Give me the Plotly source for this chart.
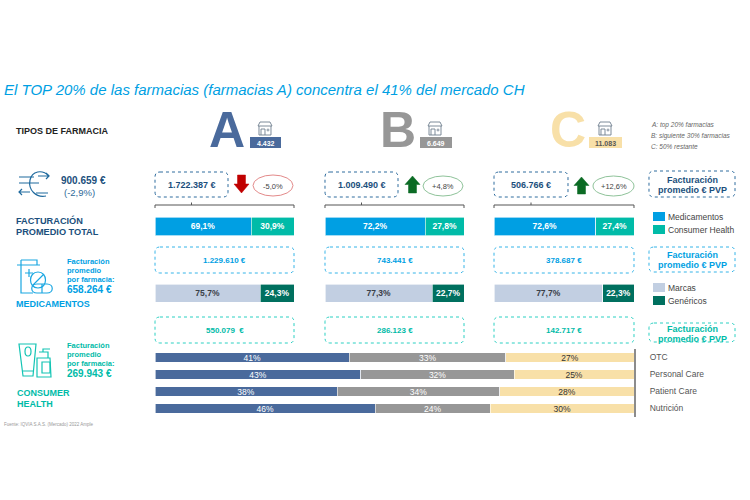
import re
import plotly.graph_objects as go

# ---------- data ----------
groups = ["A", "B", "C"]
group_counts = ["4.432", "6.649", "11.083"]
total_sales = ["1.722.387 €", "1.009.490 €", "506.766 €"]
changes = ["-5,0%", "+4,8%", "+12,6%"]
med_sales = ["1.229.610 €", "743.441 €", "378.687 €"]
ch_sales = ["550.079  €", "286.123 €", "142.717 €"]
share_medicamentos = [69.1, 72.2, 72.6]
share_consumer = [30.9, 27.8, 27.4]
share_marcas = [75.7, 77.3, 77.7]
share_genericos = [24.3, 22.7, 22.3]
ch_categories = ["OTC", "Personal Care", "Patient Care", "Nutrición"]
ch_a = [41, 43, 38, 46]
ch_b = [33, 32, 34, 24]
ch_c = [27, 25, 28, 30]

# ---------- palette ----------
BLUE, TEAL = "#009FE3", "#00BBA8"
LIGHT, DGREEN = "#C2CFE2", "#00705F"
NAVY, GREY, YEL = "#4A6A9C", "#979797", "#F8E0A8"
DARKBLUE = "#1B4F7C"
BOXBLUE = "#2F6C9E"
FONT = "Liberation Sans"

W, H = 750, 500
def fx(x): return x / W
def fy(y): return 1 - y / H

def path(s):
    toks = s.split()
    out, n = [], 0
    for t in toks:
        if re.fullmatch(r"[A-Za-z]", t):
            out.append(t); n = 0
        else:
            v = float(t)
            out.append(f"{fx(v) if n % 2 == 0 else fy(v):.5f}")
            n += 1
    res, j = "", 0
    while j < len(out):
        if out[j].isalpha():
            res += " " + out[j] + " "; j += 1
        else:
            res += out[j] + "," + out[j + 1] + " "; j += 2
    return res.strip()

shapes, annots = [], []
def add_path(s, color, width=1.2, fill=None, dash="solid"):
    d = dict(type="path", xref="paper", yref="paper", path=path(s),
             line=dict(color=color, width=width, dash=dash))
    if fill:
        d["fillcolor"] = fill
    shapes.append(d)

def rbox(x0, y0, x1, y1, color, r=5):
    s = (f"M {x0+r} {y0} L {x1-r} {y0} Q {x1} {y0} {x1} {y0+r} L {x1} {y1-r} "
         f"Q {x1} {y1} {x1-r} {y1} L {x0+r} {y1} Q {x0} {y1} {x0} {y1-r} "
         f"L {x0} {y0+r} Q {x0} {y0} {x0+r} {y0} Z")
    add_path(s, color, 1, dash="dot")

def rect(x0, y0, x1, y1, fill):
    shapes.append(dict(type="rect", xref="paper", yref="paper", x0=fx(x0), x1=fx(x1),
                       y0=fy(y0), y1=fy(y1), fillcolor=fill, line=dict(width=0)))

def ell(x0, y0, x1, y1, color):
    shapes.append(dict(type="circle", xref="paper", yref="paper", x0=fx(x0), x1=fx(x1),
                       y0=fy(y0), y1=fy(y1), line=dict(color=color, width=1)))

def T(x, y, text, size, color, bold=False, anchor="left", italic=False, family=FONT):
    annots.append(dict(x=fx(x), y=fy(y), xref="paper", yref="paper", showarrow=False,
                       text=f"<b>{text}</b>" if bold else text,
                       xanchor=anchor, yanchor="middle", align=anchor,
                       font=dict(size=size, color=color, family=family,
                                 style="italic" if italic else "normal"),
                       borderpad=0, borderwidth=0))

def shop(cx, y0):
    c = "#6F7F8F"
    add_path(f"M {cx-7} {y0+4} L {cx-5} {y0} L {cx+5} {y0} L {cx+7} {y0+4} Z", c, 0.9)
    add_path(f"M {cx-6} {y0+4} L {cx-6} {y0+13} L {cx+6} {y0+13} L {cx+6} {y0+4}", c, 0.9)
    add_path(f"M {cx-4} {y0+13} L {cx-4} {y0+7} L {cx} {y0+7} L {cx} {y0+13}", c, 0.9)
    add_path(f"M {cx+1.5} {y0+8} L {cx+4.5} {y0+8} M {cx+3} {y0+6.5} L {cx+3} {y0+9.5}", c, 0.8)

def arrow(x0, y0, x1, y1, color):
    m = (x0 + x1) / 2
    ym = y0 + (y1 - y0) * 0.5
    if color == "#C00000":  # pointing down
        s = (f"M {m-4} {y0} L {m+4} {y0} L {m+4} {ym} L {x1} {ym} L {m} {y1} "
             f"L {x0} {ym} L {m-4} {ym} Z")
    else:
        s = (f"M {m} {y0} L {x1} {ym} L {m+4} {ym} L {m+4} {y1} L {m-4} {y1} "
             f"L {m-4} {ym} L {x0} {ym} Z")
    add_path(s, color, 0.5, fill=color)

# ---------- layout geometry ----------
col_x = [(155, 294), (325, 464), (494, 634)]
big_x = [227, 398, 568]
big_col = [NAVY, GREY, YEL]
badge = [(250, 281), (420, 452), (589, 622)]
badge_txt = ["white", "white", "#555555"]
shop_x = [265, 435, 605]
box_tot = [(155, 228), (325, 398), (494, 568)]
arrows = [(234, 175, 249, 193, "#C00000"), (405, 176, 420, 193, "#0B6B24"), (574, 177, 589, 194, "#0B6B24")]
ells = [(253, 175, 293, 196, "#E38A8A"), (423, 176, 463, 196, "#8FC39A"), (593, 176, 634, 196, "#8FC39A")]

T(16, 131, "TIPOS DE FARMACIA", 9, "#222222", True)
for i in range(3):
    T(big_x[i], 130, f"<b>{groups[i]}</b>", 50, big_col[i], anchor="center")
    rect(badge[i][0], 137, badge[i][1], 148, big_col[i])
    T(sum(badge[i]) / 2, 143, group_counts[i], 7, badge_txt[i], True, "center")
    shop(shop_x[i], 122)
    x0, x1 = box_tot[i]
    rbox(x0, 172, x1, 197, BOXBLUE)
    T((x0 + x1) / 2, 185, total_sales[i], 9, DARKBLUE, True, "center")
    a = arrows[i]; arrow(a[0], a[1], a[2], a[3], a[4])
    e = ells[i]; ell(e[0], e[1], e[2], e[3], e[4])
    T((e[0] + e[2]) / 2, 186.5, changes[i], 7.5, "#444444", False, "center")
    c0, c1 = col_x[i]
    mid = (x0 + x1) / 2
    add_path(f"M {c0} 208 L {c0} 205 L {c1} 205 L {c1} 208 M {mid} 205 L {mid} 202.5", "#555555", 1)
    rbox(c0, 247, c1, 273, "#35B4E8")
    T((c0 + c1) / 2, 260, med_sales[i], 8, BLUE, True, "center")
    rbox(c0, 317, c1, 343, "#2BD0C2")
    T((c0 + c1) / 2, 330, ch_sales[i], 8, TEAL, True, "center")

# left labels
T(61, 180, "900.659 €", 10, DARKBLUE, True)
T(64, 192, "(-2,9%)", 9.5, "#2E6A99")
T(16, 221, "FACTURACIÓN", 9.2, DARKBLUE, True)
T(16, 232, "PROMEDIO TOTAL", 9.2, DARKBLUE, True)
for y, t in [(261, "Facturación"), (270, "promedio"), (279.5, "por farmacia:")]:
    T(67, y, t, 7.5, BLUE, True)
T(67, 289, "658.264 €", 10, BLUE, True)
T(16, 304, "MEDICAMENTOS", 9, BLUE, True)
for y, t in [(345, "Facturación"), (354, "promedio"), (363, "por farmacia:")]:
    T(67, y, t, 7.5, TEAL, True)
T(67, 373, "269.943 €", 10, TEAL, True)
T(17, 393, "CONSUMER", 9, TEAL, True)
T(17, 404, "HEALTH", 9, TEAL, True)
T(4, 424.5, "Fuente: IQVIA S.A.S. (Mercado) 2022 Ample", 4.5, "#999999")

# right column
T(651, 125, "A: top 20% farmacias", 6.5, "#666666", italic=True)
T(651, 136, "B: siguiente 30% farmacias", 6.5, "#666666", italic=True)
T(651, 146, "C: 50% restante", 6.5, "#666666", italic=True)
rbox(649, 171, 735, 197, BOXBLUE)
T(692, 179.5, "Facturación", 9, DARKBLUE, True, "center")
T(692, 190, "promedio € PVP", 9, DARKBLUE, True, "center")
rbox(649, 247, 735, 272, "#35B4E8")
T(692, 254.5, "Facturación", 9, BLUE, True, "center")
T(692, 264.5, "promedio € PVP", 9, BLUE, True, "center")
rbox(649, 323, 735, 342, "#2BD0C2")
T(692, 328.5, "Facturación", 9, TEAL, True, "center")
T(692, 338.5, "promedio € PVP", 9, TEAL, True, "center")
for y0, col, lab in [(212, BLUE, "Medicamentos"), (225, TEAL, "Consumer Health"),
                     (283, LIGHT, "Marcas"), (296, DGREEN, "Genéricos")]:
    rect(653, y0, 665, y0 + 9, col)
    T(668, y0 + 5, lab, 8.5, "#444444")

# ---------- icons ----------
c = "#1F6A9E"
add_path("M 19 177 L 34 177 M 19 183 L 39 183 M 36 193 L 48 193", c, 1.2)
add_path("M 49 176 C 42 169 32 171 30 180 C 28 190 36 198 46 196", c, 1.2)
add_path("M 38 176 L 49 176 M 46 173 L 49 176 L 46 179", c, 1.2)
add_path("M 19 192 L 30 192 M 22 189 L 19 192 L 22 195", c, 1.2)
c = "#1AA7E2"
add_path("M 21 260 L 37 260 L 37 265 M 17 265 L 40 265 M 21 265 L 21 293 L 33 293 M 21 260 L 21 265", c, 1.2)
add_path("M 25 273 L 33 273 M 29 269 L 29 277", c, 1.2)
add_path("M 38 272 C 48 272 48 288 38 288 C 28 288 28 272 38 272 Z M 33 285 L 43 275", c, 1.2)
add_path("M 37 284 L 47 284 C 54 284 54 293 47 293 L 37 293 C 30 293 30 284 37 284 Z M 42 284 L 42 293", c, 1.2)
c = "#12C4B4"
add_path("M 19 344 L 36 344 L 33 376 L 23 376 Z M 22 371 L 34 371", c, 1.2)
add_path("M 28 347 C 32 347 32 356 28 356 C 24 356 24 347 28 347 Z", c, 1.2)
add_path("M 37 358 L 50 358 L 51 377 L 37 377 Z M 39 352 L 48 352 L 48 358 M 43 352 L 43 349 L 50 349", c, 1.2)
add_path("M 42 362 L 50 362 L 50 373 L 42 373 Z", c, 1.2)

# ---------- traces on their own axes ----------
fig = go.Figure()
layout_axes = {}
axis_no = 0

def make_axes(x0, x1, y0, y1, **yopts):
    global axis_no
    axis_no += 1
    sfx = "" if axis_no == 1 else str(axis_no)
    layout_axes["xaxis" + sfx] = dict(domain=[fx(x0), fx(x1)], range=[0, 100], visible=False,
                                      anchor="y" + sfx, fixedrange=True)
    y = dict(domain=[fy(y1), fy(y0)], anchor="x" + sfx, fixedrange=True, showgrid=False,
             zeroline=False, type="category", autorange="reversed", visible=False)
    y.update(yopts)
    layout_axes["yaxis" + sfx] = y
    return "x" + sfx, "y" + sfx

def seg(xa, ya, cats, vals, color, labels, txtcol, bold, size, width, name):
    fig.add_trace(go.Bar(
        y=cats, x=vals, name=name, orientation="h", xaxis=xa, yaxis=ya, width=width,
        marker=dict(color=color, line=dict(width=0.6, color="white")),
        text=[f"<b>{l}</b>" if bold else l for l in labels],
        textposition="inside", insidetextanchor="middle", textangle=0,
        constraintext="none", cliponaxis=False,
        textfont=dict(color=txtcol, size=size, family=FONT), showlegend=False))

def pct(v):
    return f"{v:.1f}%".replace(".", ",")

for i in range(3):
    c0, c1 = col_x[i]
    xa, ya = make_axes(c0, c1, 217, 235.5)
    seg(xa, ya, ["Total"], [share_medicamentos[i]], BLUE, [pct(share_medicamentos[i])], "white", True, 8.5, 1, "Medicamentos")
    seg(xa, ya, ["Total"], [share_consumer[i]], TEAL, [pct(share_consumer[i])], "white", True, 8.5, 1, "Consumer Health")
    xa, ya = make_axes(c0, c1, 284, 302)
    seg(xa, ya, ["Med"], [share_marcas[i]], LIGHT, [pct(share_marcas[i])], "#3A4048", True, 8.5, 1, "Marcas")
    seg(xa, ya, ["Med"], [share_genericos[i]], DGREEN, [pct(share_genericos[i])], "white", True, 8.5, 1, "Genéricos")

xa, ya = make_axes(155, 634, 349, 417, visible=True, side="right", showline=True,
                   linecolor="#8C8C8C", linewidth=2, ticks="outside", ticklen=12,
                   tickcolor="rgba(0,0,0,0)", tickfont=dict(size=8.5, color="#555555", family=FONT))
seg(xa, ya, ch_categories, ch_a, NAVY, [f"{v}%" for v in ch_a], "white", False, 8.5, 0.56, "A")
seg(xa, ya, ch_categories, ch_b, GREY, [f"{v}%" for v in ch_b], "white", False, 8.5, 0.56, "B")
seg(xa, ya, ch_categories, ch_c, YEL, [f"{v}%" for v in ch_c], "#333333", False, 8.5, 0.56, "C")

fig.update_layout(
    width=W, height=H, margin=dict(l=0, r=0, t=0, b=0), autosize=False,
    paper_bgcolor="white", plot_bgcolor="white", barmode="stack", barnorm="percent",
    font=dict(family=FONT),
    title=dict(text="El TOP 20% de las farmacias (farmacias A) concentra el 41% del mercado CH",
               x=fx(4), xanchor="left", y=fy(90), yanchor="middle",
               font=dict(size=15, color=BLUE, family=FONT, style="italic")),
    shapes=shapes, annotations=annots, **layout_axes)

fig.write_html("out.html", config={"displayModeBar": False},
               post_script="document.body.style.margin='0';document.body.style.overflow='hidden';")
